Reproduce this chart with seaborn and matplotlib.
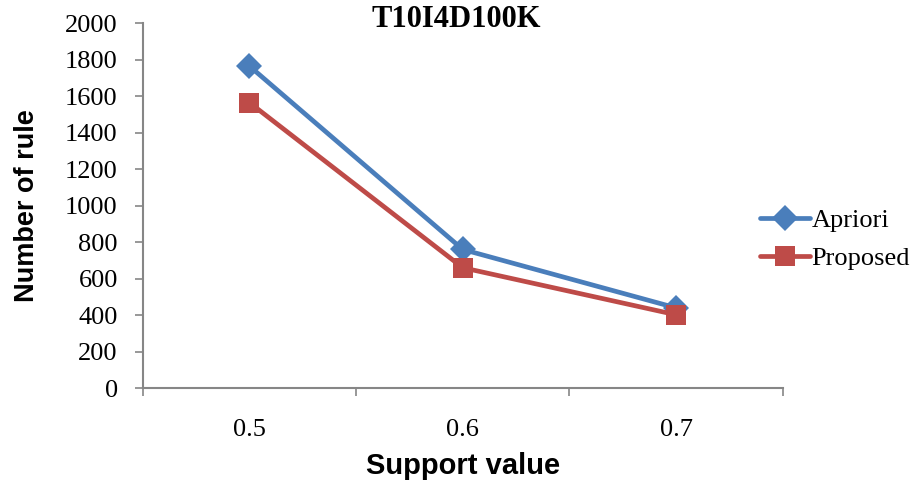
import matplotlib
matplotlib.use("Agg")
import matplotlib.pyplot as plt
import seaborn as sns
import pandas as pd

categories = ["0.5", "0.6", "0.7"]
apriori = [1765, 760, 440]
proposed = [1565, 660, 402]
series_names = ["Apriori", "Proposed"]
y_ticks = [0, 200, 400, 600, 800, 1000, 1200, 1400, 1600, 1800, 2000]

df = pd.DataFrame({
    "Support value": categories * 2,
    "Number of rule": apriori + proposed,
    "Series": [series_names[0]] * 3 + [series_names[1]] * 3,
})

sns.set_theme(style="white")
plt.rcParams["font.family"] = ["Liberation Serif", "DejaVu Serif"]
plt.rcParams["text.color"] = "black"
plt.rcParams["axes.labelcolor"] = "black"
plt.rcParams["xtick.labelcolor"] = "black"
plt.rcParams["ytick.labelcolor"] = "black"

fig = plt.figure(figsize=(9.21, 4.84), dpi=100)
ax = fig.add_axes([0.155, 0.198, 0.695, 0.754])

palette = {"Apriori": "#4A7EBB", "Proposed": "#BE4B48"}
sns.lineplot(data=df, x="Support value", y="Number of rule", hue="Series",
             style="Series", markers={"Apriori": "D", "Proposed": "s"},
             dashes=False, palette=palette, linewidth=3.4, markersize=14,
             markeredgewidth=0, ax=ax)
for ln in ax.lines:
    if ln.get_marker() == "D":
        ln.set_markersize(13.5)

ax.set_xlim(-0.5, 2.5)
ax.set_ylim(0, 2000)
ax.set_yticks(y_ticks)
ax.set_xticks([0, 1, 2])
ax.set_xticklabels(categories)
ax.set_xticks([-0.5, 0.5, 1.5, 2.5], minor=True)
ax.tick_params(axis="x", which="major", length=0, labelsize=19, pad=22, labelcolor="black")
ax.tick_params(axis="x", which="minor", length=6, width=1.2, color="#868686", direction="out", bottom=True)
ax.tick_params(axis="y", length=6, width=1.2, color="#868686", direction="out", left=True, labelsize=19, pad=12, labelcolor="black")

for s in ["top", "right"]:
    ax.spines[s].set_visible(False)
for s in ["left", "bottom"]:
    ax.spines[s].set_color("#868686")
    ax.spines[s].set_linewidth(1.5)

ax.set_xlabel("Support value", family=["Liberation Sans", "DejaVu Sans"], fontweight="bold", fontsize=21, labelpad=8, color="black")
ax.set_ylabel("Number of rule", family=["Liberation Sans", "DejaVu Sans"], fontweight="bold", fontsize=19.5, labelpad=18, color="black")
ax.set_title("T10I4D100K", fontweight="bold", fontsize=22, pad=-3, x=0.49, color="black")

handles, labels = ax.get_legend_handles_labels()
leg = ax.legend(handles, labels, loc="center left", bbox_to_anchor=(0.814, 0.505),
                bbox_transform=fig.transFigure, frameon=False, fontsize=19,
                handlelength=1.9, handletextpad=0.05, labelspacing=0.55, borderaxespad=0)
for t in leg.get_texts():
    t.set_color("black")

fig.savefig("out.png", dpi=100)
